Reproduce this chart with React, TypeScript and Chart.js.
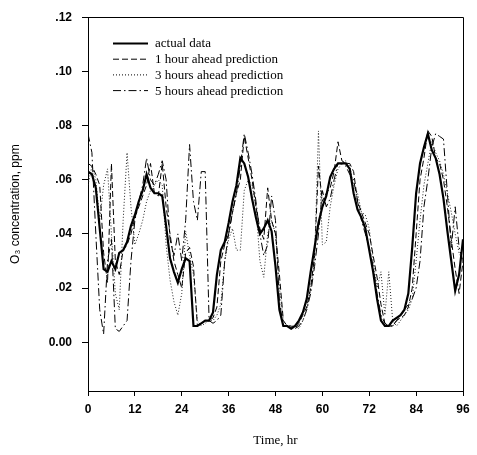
import React, { useEffect, useRef } from 'react';
import { Chart, registerables } from 'chart.js';

Chart.register(...registerables);

const hours: number[] = Array.from({ length: 97 }, (_, i) => i);

const actualData: number[] = [
  0.063, 0.062, 0.057, 0.042, 0.027, 0.026, 0.030, 0.027, 0.033, 0.034,
  0.037, 0.043, 0.047, 0.052, 0.056, 0.062, 0.057, 0.055, 0.055, 0.054,
  0.043, 0.031, 0.026, 0.022, 0.027, 0.031, 0.030, 0.006, 0.006, 0.007,
  0.008, 0.008, 0.011, 0.025, 0.034, 0.037, 0.044, 0.052, 0.058, 0.068,
  0.066, 0.061, 0.053, 0.046, 0.040, 0.042, 0.045, 0.041, 0.028, 0.012,
  0.006, 0.006, 0.005, 0.006, 0.008, 0.011, 0.016, 0.026, 0.035, 0.044,
  0.050, 0.054, 0.061, 0.064, 0.066, 0.066, 0.066, 0.064, 0.055, 0.049,
  0.046, 0.042, 0.034, 0.026, 0.016, 0.008, 0.006, 0.006, 0.008, 0.009,
  0.010, 0.012, 0.018, 0.035, 0.055, 0.066, 0.072, 0.077, 0.071, 0.068,
  0.062, 0.053, 0.041, 0.030, 0.019, 0.025, 0.038,
];

const pred1h: number[] = [
  0.066, 0.065, 0.062, 0.058, 0.033, 0.022, 0.066, 0.030, 0.025, 0.034,
  0.036, 0.040, 0.046, 0.050, 0.054, 0.058, 0.066, 0.055, 0.054, 0.066,
  0.050, 0.040, 0.030, 0.025, 0.020, 0.033, 0.035, 0.028, 0.006, 0.007,
  0.008, 0.008, 0.009, 0.013, 0.030, 0.036, 0.040, 0.048, 0.055, 0.060,
  0.076, 0.068, 0.060, 0.050, 0.042, 0.038, 0.057, 0.045, 0.040, 0.025,
  0.008, 0.006, 0.006, 0.005, 0.007, 0.010, 0.013, 0.020, 0.032, 0.065,
  0.052, 0.055, 0.057, 0.063, 0.074, 0.067, 0.066, 0.066, 0.063, 0.052,
  0.048, 0.044, 0.040, 0.032, 0.024, 0.014, 0.007, 0.006, 0.006, 0.008,
  0.009, 0.010, 0.013, 0.020, 0.040, 0.060, 0.068, 0.078, 0.076, 0.068,
  0.066, 0.060, 0.050, 0.038, 0.027, 0.018, 0.030,
];

const pred3h: number[] = [
  0.058, 0.065, 0.060, 0.045, 0.058, 0.064, 0.040, 0.018, 0.012, 0.045,
  0.070, 0.050, 0.036, 0.040, 0.045, 0.052, 0.056, 0.058, 0.060, 0.058,
  0.036, 0.023, 0.015, 0.010, 0.018, 0.041, 0.032, 0.025, 0.008, 0.006,
  0.007, 0.008, 0.008, 0.010, 0.014, 0.030, 0.038, 0.042, 0.034, 0.034,
  0.056, 0.060, 0.058, 0.050, 0.030, 0.024, 0.040, 0.045, 0.040, 0.020,
  0.008, 0.006, 0.006, 0.006, 0.005, 0.008, 0.012, 0.020, 0.030, 0.078,
  0.036, 0.037, 0.050, 0.058, 0.064, 0.066, 0.067, 0.065, 0.058, 0.055,
  0.048, 0.047, 0.042, 0.030, 0.020, 0.026, 0.010, 0.026, 0.008, 0.006,
  0.008, 0.010, 0.012, 0.016, 0.030, 0.045, 0.058, 0.066, 0.074, 0.070,
  0.067, 0.062, 0.055, 0.048, 0.040, 0.033, 0.030,
];

const pred5h: number[] = [
  0.077, 0.070, 0.040, 0.012, 0.003, 0.030, 0.038, 0.005, 0.004, 0.006,
  0.008, 0.030, 0.045, 0.052, 0.058, 0.068, 0.060, 0.058, 0.062, 0.067,
  0.060, 0.038, 0.032, 0.040, 0.030, 0.045, 0.073, 0.052, 0.045, 0.063,
  0.063, 0.008, 0.007, 0.008, 0.010, 0.030, 0.040, 0.048, 0.055, 0.065,
  0.077, 0.070, 0.062, 0.052, 0.040, 0.032, 0.036, 0.054, 0.045, 0.015,
  0.006, 0.006, 0.005, 0.005, 0.006, 0.008, 0.012, 0.018, 0.028, 0.040,
  0.056, 0.050, 0.053, 0.060, 0.066, 0.066, 0.065, 0.062, 0.060, 0.052,
  0.045, 0.040, 0.035, 0.028, 0.018, 0.010, 0.007, 0.006, 0.006, 0.008,
  0.010, 0.012, 0.014, 0.016, 0.020, 0.030, 0.050, 0.060, 0.072, 0.077,
  0.076, 0.075, 0.055, 0.035, 0.050, 0.035, 0.030,
];

const xTicks: number[] = [0, 12, 24, 36, 48, 60, 72, 84, 96];
const yTicks: number[] = [0, 0.02, 0.04, 0.06, 0.08, 0.1, 0.12];
const yTickLabels: string[] = ['0.00', '.02', '.04', '.06', '.08', '.10', '.12'];

const seriesLabels: string[] = [
  'actual data',
  '1 hour ahead prediction',
  '3 hours ahead prediction',
  '5 hours ahead prediction',
];

export default function App() {
  const ref = useRef<HTMLCanvasElement>(null);

  useEffect(() => {
    if (!ref.current) return;

    const framePlugin = {
      id: 'frame',
      afterDatasetsDraw(chart: any) {
        const { ctx, chartArea: a } = chart;
        ctx.save();
        ctx.strokeStyle = '#000';
        ctx.lineWidth = 1;
        ctx.setLineDash([]);
        ctx.beginPath();
        ctx.moveTo(Math.round(a.left) + 0.5, Math.round(a.top) + 0.5);
        ctx.lineTo(Math.round(a.right) + 0.5, Math.round(a.top) + 0.5);
        ctx.lineTo(Math.round(a.right) + 0.5, Math.round(a.bottom) + 0.5);
        ctx.stroke();
        ctx.restore();
      },
    };

    const legendPlugin = {
      id: 'innerLegend',
      afterDatasetsDraw(chart: any) {
        const { ctx } = chart;
        ctx.save();
        const x1 = 113;
        const x2 = 148;
        const tx = 155;
        let y = 43;
        chart.data.datasets.forEach((ds: any) => {
          ctx.strokeStyle = '#000';
          ctx.lineWidth = ds.borderWidth;
          ctx.setLineDash(ds.borderDash || []);
          ctx.beginPath();
          ctx.moveTo(x1, y + 0.5);
          ctx.lineTo(x2, y + 0.5);
          ctx.stroke();
          ctx.setLineDash([]);
          ctx.fillStyle = '#000';
          ctx.font = '13px "Liberation Serif"';
          ctx.textBaseline = 'middle';
          ctx.textAlign = 'left';
          ctx.fillText(ds.label, tx, y + 1);
          y += 15.7;
        });
        ctx.restore();
      },
    };

    const mk = (vals: number[]) => vals.map((v, i) => ({ x: hours[i], y: v }));

    const chart = new Chart(ref.current, {
      type: 'line',
      data: {
        datasets: [
          {
            label: seriesLabels[0],
            data: mk(actualData),
            borderColor: '#000',
            borderWidth: 2.2,
            borderDash: [],
            pointRadius: 0,
            tension: 0,
          },
          {
            label: seriesLabels[1],
            data: mk(pred1h),
            borderColor: '#000',
            borderWidth: 1,
            borderDash: [6, 3],
            pointRadius: 0,
            tension: 0,
          },
          {
            label: seriesLabels[2],
            data: mk(pred3h),
            borderColor: '#222',
            borderWidth: 1,
            borderDash: [1, 2],
            pointRadius: 0,
            tension: 0,
          },
          {
            label: seriesLabels[3],
            data: mk(pred5h),
            borderColor: '#000',
            borderWidth: 1,
            borderDash: [8, 3, 1.5, 3],
            pointRadius: 0,
            tension: 0,
          },
        ],
      },
      options: {
        animation: false,
        responsive: false,
        devicePixelRatio: 1,
        layout: { padding: { left: 0, top: 15, right: 14, bottom: 0 } },
        plugins: {
          legend: { display: false },
          tooltip: { enabled: false },
        },
        scales: {
          x: {
            type: 'linear',
            min: 0,
            max: 96,
            afterBuildTicks: (s: any) => {
              s.ticks = xTicks.map((v) => ({ value: v }));
            },
            afterFit: (s: any) => {
              s.height = 64;
            },
            ticks: {
              autoSkip: false,
              maxRotation: 0,
              padding: 6,
              color: '#000',
              font: { family: '"Liberation Sans"', size: 12, weight: 'bold' },
              callback: (v: any) => String(v),
            },
            grid: {
              drawOnChartArea: false,
              drawTicks: true,
              tickLength: 5,
              color: '#000',
            },
            border: { color: '#000', width: 1 },
            title: {
              display: true,
              text: 'Time, hr',
              color: '#000',
              font: { family: '"Liberation Serif"', size: 13 },
              padding: { top: 4, bottom: 7 },
            },
          },
          y: {
            type: 'linear',
            min: -0.018,
            max: 0.12,
            afterBuildTicks: (s: any) => {
              s.ticks = yTicks.map((v) => ({ value: v }));
            },
            afterFit: (s: any) => {
              s.width = 88;
            },
            ticks: {
              padding: 10,
              color: '#000',
              font: { family: '"Liberation Sans"', size: 12, weight: 'bold' },
              callback: (_v: any, i: number) => yTickLabels[i],
            },
            grid: {
              drawOnChartArea: false,
              drawTicks: true,
              tickLength: 6,
              color: '#000',
            },
            border: { color: '#000', width: 1 },
            title: {
              display: true,
              text: 'O₃ concentration, ppm',
              color: '#000',
              font: { family: '"Liberation Sans"', size: 12 },
              padding: { top: 8, bottom: 0 },
            },
          },
        },
      },
      plugins: [framePlugin, legendPlugin],
    } as any);

    return () => chart.destroy();
  }, []);

  return (
    <div style={{ position: 'fixed', left: 0, top: 0, width: 477, height: 455, background: '#fff' }}>
      <canvas ref={ref} width={477} height={455} style={{ width: 477, height: 455, display: 'block' }} />
    </div>
  );
}
